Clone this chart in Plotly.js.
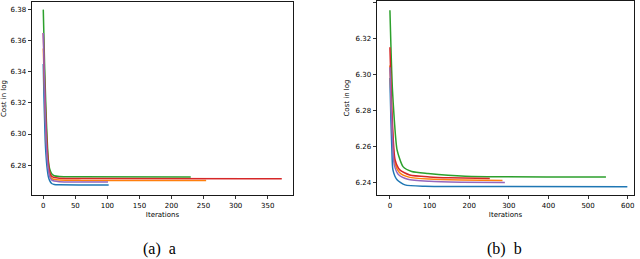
<!DOCTYPE html>
<html>
<head>
<meta charset="utf-8">
<script src="https://cdn.plot.ly/plotly-3.0.1.min.js"></script>
<style>html,body{margin:0;padding:0;background:#fff;}#chart{width:640px;height:259px;}</style>
</head>
<body>
<div id="chart"></div>
<script>
// Panel (a)
const aGreenX  = [0, 2, 4, 6, 8, 10, 13, 17, 25, 50, 230];
const aGreenY  = [6.380, 6.345, 6.318, 6.297, 6.283, 6.2775, 6.2745, 6.2732, 6.2727, 6.2725, 6.2724];
const aRedX    = [0, 2, 4, 6, 8, 10, 13, 17, 25, 60, 372];
const aRedY    = [6.365, 6.335, 6.310, 6.292, 6.281, 6.2755, 6.2728, 6.2720, 6.2716, 6.2714, 6.2713];
const aOrangeX = [0, 2, 4, 6, 8, 10, 13, 17, 25, 60, 254];
const aOrangeY = [6.355, 6.328, 6.303, 6.288, 6.279, 6.274, 6.2715, 6.2708, 6.2704, 6.2702, 6.2701];
const aPurpleX = [0, 2, 4, 6, 8, 10, 13, 17, 25, 101];
const aPurpleY = [6.365, 6.330, 6.302, 6.285, 6.277, 6.2725, 6.2705, 6.2698, 6.2694, 6.2692];
const aBlueX   = [0, 1, 2, 3, 4, 6, 8, 10, 13, 17, 25, 102];
const aBlueY   = [6.345, 6.325, 6.310, 6.296, 6.288, 6.278, 6.2725, 6.2700, 6.2682, 6.2676, 6.2674, 6.2673];

// Panel (b)
const bGreenX  = [0, 3, 6, 11, 18, 33, 55, 96, 190, 545];
const bGreenY  = [6.3355, 6.312, 6.293, 6.275, 6.2583, 6.249, 6.2463, 6.2452, 6.2437, 6.2433];
const bRedX    = [0, 3, 6, 13, 25, 50, 100, 150, 252];
const bRedY    = [6.315, 6.292, 6.275, 6.2528, 6.2472, 6.2444, 6.2433, 6.2428, 6.2424];
const bOrangeX = [0, 3, 6, 12, 24, 48, 100, 180, 284];
const bOrangeY = [6.305, 6.285, 6.270, 6.2515, 6.2458, 6.2432, 6.2421, 6.2416, 6.2413];
const bPurpleX = [0, 3, 6, 11, 22, 45, 100, 180, 290];
const bPurpleY = [6.304, 6.283, 6.267, 6.2500, 6.2445, 6.2420, 6.2409, 6.2404, 6.2402];
const bBlueX   = [0, 2.5, 5, 7.6, 18, 38, 88, 200, 599];
const bBlueY   = [6.298, 6.275, 6.258, 6.2472, 6.2417, 6.2389, 6.2381, 6.2380, 6.2379];

const aXTicks = [0, 50, 100, 150, 200, 250, 300, 350];
const aYTicks = [6.28, 6.30, 6.32, 6.34, 6.36, 6.38];
const bXTicks = [0, 100, 200, 300, 400, 500, 600];
const bYTicks = [6.24, 6.26, 6.28, 6.30, 6.32, 6.34];

const C = {blue:'#1f77b4', orange:'#ff7f0e', green:'#2ca02c', red:'#d62728', purple:'#9467bd'};
function tr(x, y, col, xa, ya) {
  return {x: x, y: y, type: 'scatter', mode: 'lines', xaxis: xa, yaxis: ya,
    line: {color: col, width: 1.5, shape: 'spline', smoothing: 0.6}, showlegend: false, hoverinfo: 'skip'};
}
const data = [
  tr(aBlueX, aBlueY, C.blue, 'x', 'y'),
  tr(aOrangeX, aOrangeY, C.orange, 'x', 'y'),
  tr(aGreenX, aGreenY, C.green, 'x', 'y'),
  tr(aRedX, aRedY, C.red, 'x', 'y'),
  tr(aPurpleX, aPurpleY, C.purple, 'x', 'y'),
  tr(bBlueX, bBlueY, C.blue, 'x2', 'y2'),
  tr(bOrangeX, bOrangeY, C.orange, 'x2', 'y2'),
  tr(bGreenX, bGreenY, C.green, 'x2', 'y2'),
  tr(bRedX, bRedY, C.red, 'x2', 'y2'),
  tr(bPurpleX, bPurpleY, C.purple, 'x2', 'y2')
];

const tickFont = {family: 'DejaVu Sans', size: 7, color: '#000'};
const titleFont = {family: 'DejaVu Sans', size: 7, color: '#000'};
function axis(extra) {
  return Object.assign({
    showline: true, mirror: true, linecolor: '#000', linewidth: 0.9,
    ticks: 'outside', ticklen: 3.5, tickwidth: 0.8, tickcolor: '#000',
    showgrid: false, zeroline: false, tickfont: tickFont, tickmode: 'array'
  }, extra);
}
const yTop = 1 - 2/259, yBot = 1 - 195/259;
const layout = {
  width: 640, height: 259,
  margin: {l: 0, r: 0, t: 0, b: 0},
  paper_bgcolor: '#fff', plot_bgcolor: '#fff',
  xaxis: axis({domain: [32/640, 293/640], range: [-17.6, 389.5], tickvals: aXTicks, anchor: 'y',
    title: {text: 'Iterations', font: titleFont, standoff: 3}}),
  yaxis: axis({domain: [yBot, yTop], range: [6.2608, 6.3849], tickvals: aYTicks, anchor: 'x',
    tickformat: '.2f', title: {text: 'Cost in log', font: titleFont, standoff: 5}}),
  xaxis2: axis({domain: [377/640, 634/640], range: [-32.6, 615.8], tickvals: bXTicks, anchor: 'y2',
    title: {text: 'Iterations', font: titleFont, standoff: 3}}),
  yaxis2: axis({domain: [yBot, 1 - 1/259], range: [6.2333, 6.3406], tickvals: bYTicks, anchor: 'x2',
    tickformat: '.2f', title: {text: 'Cost in log', font: titleFont, standoff: 5}}),
  annotations: [
    {text: '(a)  a', xref: 'paper', yref: 'paper', x: 159/640, y: 1 - 249/259, xanchor: 'center', yanchor: 'middle',
      showarrow: false, font: {family: 'Liberation Serif', size: 16, color: '#000'}},
    {text: '(b)  b', xref: 'paper', yref: 'paper', x: 504/640, y: 1 - 249/259, xanchor: 'center', yanchor: 'middle',
      showarrow: false, font: {family: 'Liberation Serif', size: 16, color: '#000'}}
  ]
};
Plotly.newPlot('chart', data, layout, {staticPlot: true, displayModeBar: false});
</script>
</body>
</html>
